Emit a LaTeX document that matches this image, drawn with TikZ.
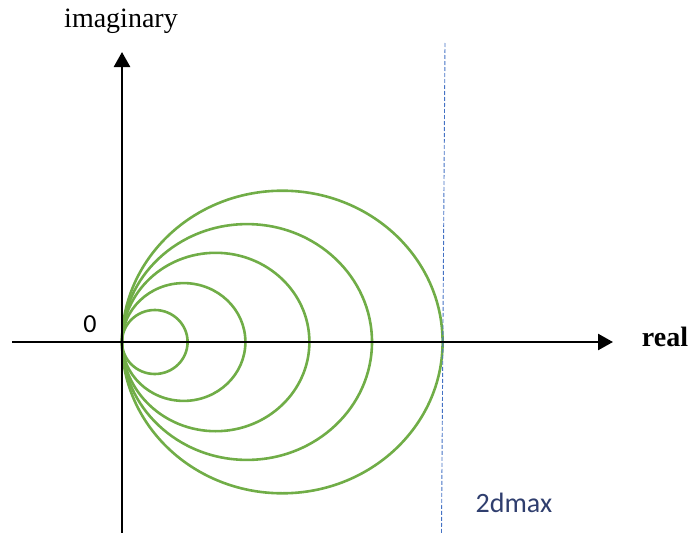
\documentclass[tikz,border=0pt]{standalone}
\usepackage{fontspec}
\setmainfont{Liberation Serif}
\newfontfamily\calib{Carlito}
\usepackage{xcolor}
\usepackage{tikz}
\usetikzlibrary{positioning, arrows.meta, calc}
\definecolor{ringgreen}{RGB}{112,173,71}
\definecolor{limitblue}{RGB}{68,114,196}
\definecolor{navytext}{RGB}{47,62,110}

\begin{document}
\begin{tikzpicture}[x=1pt, y=-1pt,
  axis/.style={line width=2.6pt, draw=black, line cap=butt},
  axarr/.style={axis, -{Triangle[length=15pt, width=16pt]}},
  ring/.style={line width=2.6pt, draw=ringgreen},
  limit/.style={line width=0.9pt, draw=limitblue, dash pattern=on 4pt off 2pt},
  lbl/.style={font=\fontsize{28}{30}\selectfont, inner sep=0pt},
  num/.style={font=\calib\fontsize{26}{28}\selectfont, inner sep=0pt}
]
\useasboundingbox (0,0) rectangle (689,533);

% origin and axis ends
\coordinate (o) at (122,342);
\coordinate (xleft) at (12,342);
\coordinate (xright) at (613,342);
\coordinate (ybot) at (122,533);
\coordinate (ytop) at (122,52);

% circles through the origin
\draw[ring] ($(o)+(32.8,0)$) ellipse [x radius=32.8, y radius=32];
\draw[ring] ($(o)+(61.7,0)$) ellipse [x radius=61.7, y radius=58.9];
\draw[ring] ($(o)+(93.7,0)$) ellipse [x radius=93.7, y radius=89.2];
\draw[ring] ($(o)+(125,0)$) ellipse [x radius=125, y radius=117.9];
\draw[ring] ($(o)+(160.3,0)$) ellipse [x radius=160.3, y radius=151.3];

% axes
\draw[axarr] (xleft) -- (xright);
\draw[axarr] (ybot) -- (ytop);

% bound line
\coordinate (dtop) at (445,43);
\coordinate (dbot) at (441.5,533);
\draw[limit] (dtop) -- (dbot);

% labels
\node[lbl] (imag) at (121,21) {imaginary};
\node[lbl, font=\fontsize{28}{30}\selectfont\bfseries] (real) at (665,337) {real};
\node[num] (zero) at (90,324) {0};
\node[num, font=\calib\fontsize{28}{30}\selectfont, text=navytext] (dmax) at (514,503) {2dmax};

\end{tikzpicture}
\end{document}
